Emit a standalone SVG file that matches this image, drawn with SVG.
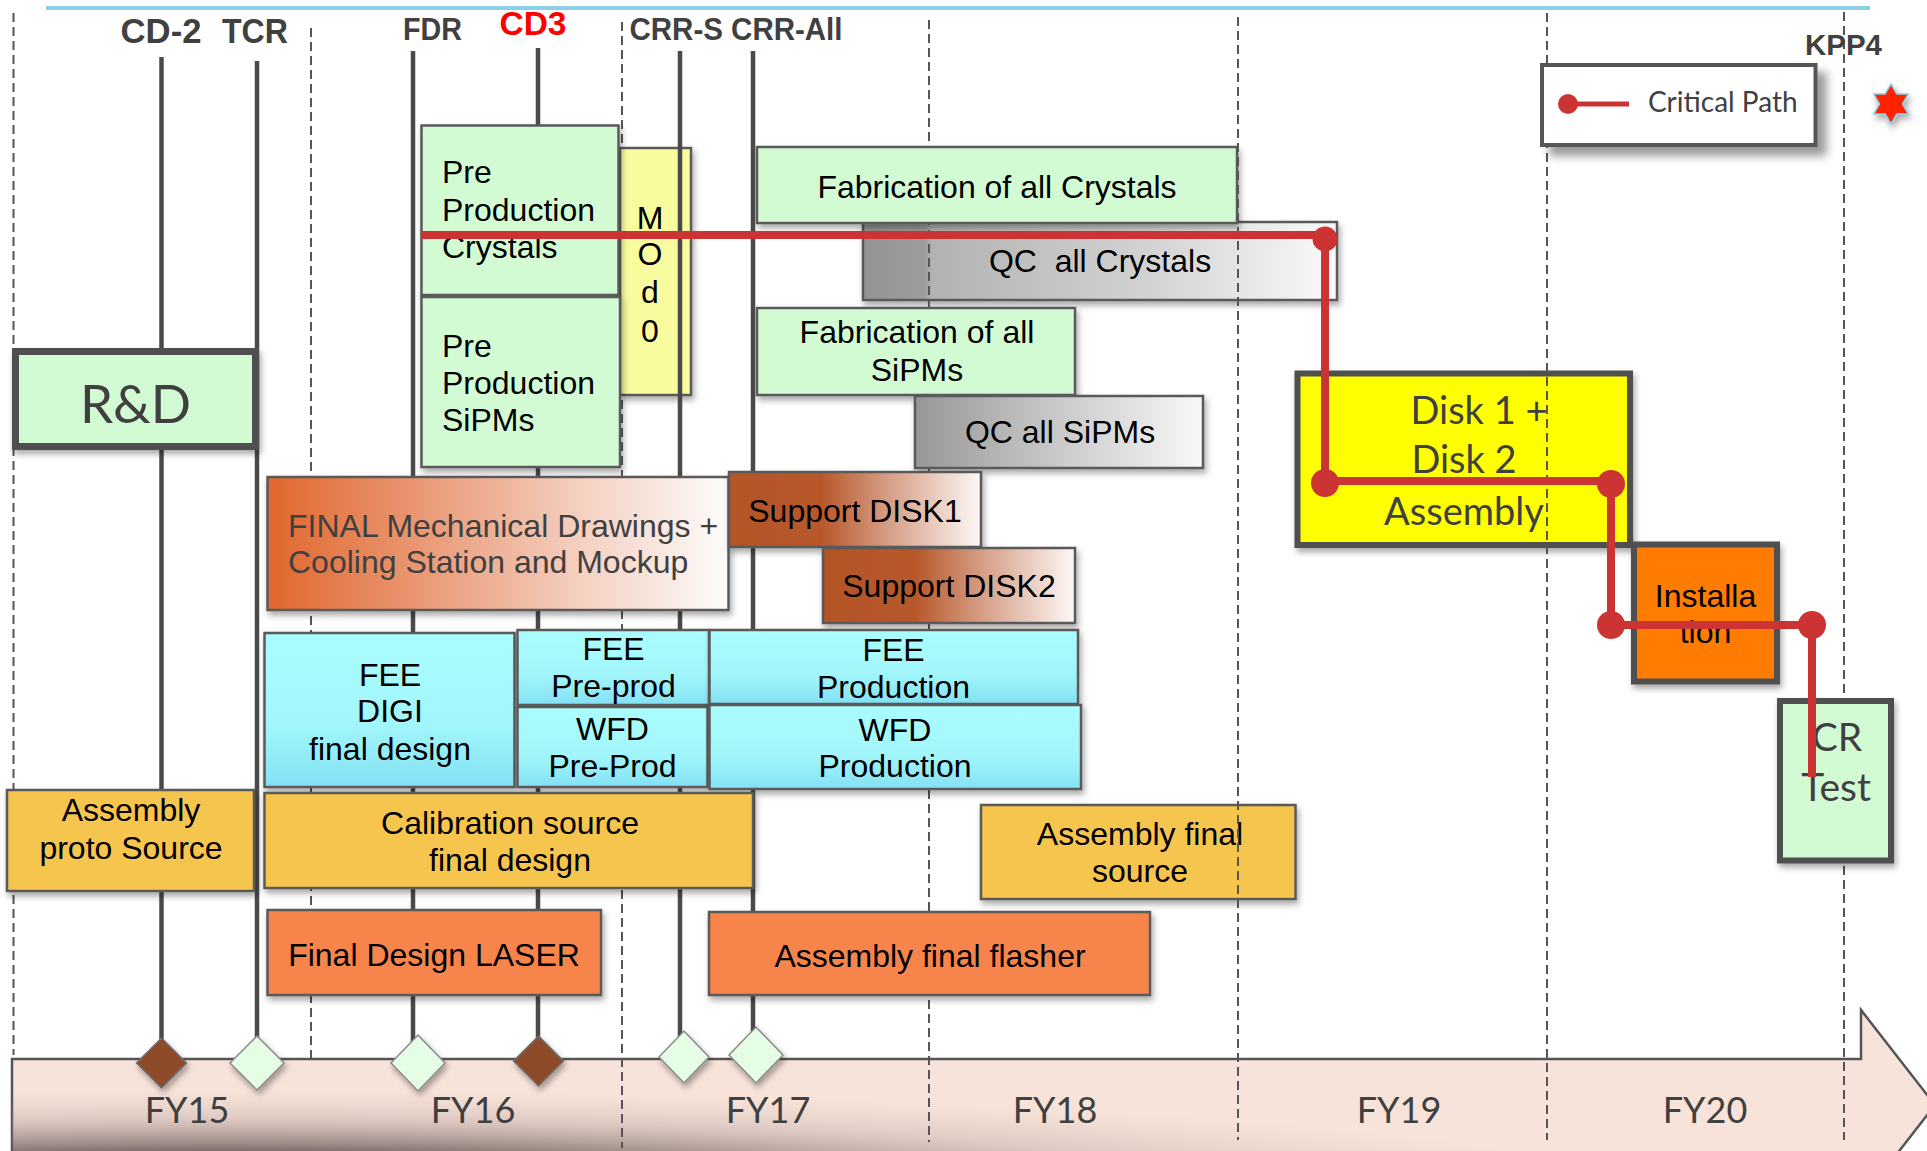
<svg xmlns="http://www.w3.org/2000/svg" width="1927" height="1151" viewBox="0 0 1927 1151">
  <defs>
    <style>
      .t { font-family: "Liberation Sans", Arial, sans-serif; font-size: 32px; fill: #000; }
      .mid { text-anchor: middle; }
      .cal { font-family: Lato, "Open Sans", sans-serif; fill: #404040; }
      .ms { font-family: "Liberation Sans", Arial, sans-serif; font-weight: bold; fill: #404040; }
      .box { stroke: #5a5a5a; stroke-width: 2.5; filter: url(#shadow); }
      .heavy { stroke: #505050; stroke-width: 6; filter: url(#shadow); }
      .dash { stroke: #555; stroke-width: 2; stroke-dasharray: 9 5; fill: none; }
      .mline { stroke: #4a4a4a; stroke-width: 4.5; fill: none; }
      .dia-dark { fill: #8e4b2c; stroke: #6f6f6f; stroke-width: 1.5; filter: url(#shadow); }
      .dia-light { fill: #e4fde4; stroke: #8a8a8a; stroke-width: 1.5; filter: url(#shadow); }
      .green { fill: #d3fbd3; }
      .gold { fill: #f6c54e; }
      .orange { fill: #f7854b; }
      .crit { stroke: #cc3333; stroke-width: 8; fill: none; stroke-linejoin: miter; }
      .dot { fill: #cc3333; }
    </style>
    <filter id="shadow" x="-10%" y="-10%" width="130%" height="140%">
      <feDropShadow dx="2" dy="4" stdDeviation="3" flood-color="#000" flood-opacity="0.35"/>
    </filter>
    <filter id="shadowBig" x="-10%" y="-20%" width="130%" height="160%">
      <feDropShadow dx="9" dy="9" stdDeviation="5" flood-color="#000" flood-opacity="0.4"/>
    </filter>
    <linearGradient id="gQC1" x1="0" y1="0" x2="1" y2="0">
      <stop offset="0" stop-color="#939393"/>
      <stop offset="0.13" stop-color="#9d9d9d"/>
      <stop offset="0.145" stop-color="#b2b2b2"/>
      <stop offset="0.6" stop-color="#d2d2d2"/>
      <stop offset="1" stop-color="#fafafa"/>
    </linearGradient>
    <linearGradient id="gQC2" x1="0" y1="0" x2="1" y2="0">
      <stop offset="0" stop-color="#979797"/>
      <stop offset="0.5" stop-color="#cacaca"/>
      <stop offset="1" stop-color="#f8f8f8"/>
    </linearGradient>
    <linearGradient id="gBrown" x1="0" y1="0" x2="1" y2="0">
      <stop offset="0" stop-color="#b35427"/>
      <stop offset="0.37" stop-color="#b8592c"/>
      <stop offset="0.62" stop-color="#d49b82"/>
      <stop offset="1" stop-color="#fdf8f6"/>
    </linearGradient>
    <linearGradient id="gMech" x1="0" y1="0" x2="1" y2="0">
      <stop offset="0" stop-color="#e0662c"/>
      <stop offset="0.35" stop-color="#ea9b78"/>
      <stop offset="0.7" stop-color="#f5d3c5"/>
      <stop offset="1" stop-color="#fdfbfa"/>
    </linearGradient>
    <linearGradient id="gCyan" x1="0" y1="0" x2="0" y2="1">
      <stop offset="0" stop-color="#aafdfd"/>
      <stop offset="0.6" stop-color="#a2f6fb"/>
      <stop offset="1" stop-color="#83e1f4"/>
    </linearGradient>
    <radialGradient id="gBandShade" gradientUnits="userSpaceOnUse" cx="0" cy="0" r="1" gradientTransform="translate(220 1185) scale(1400 95)">
      <stop offset="0" stop-color="#4f403e" stop-opacity="1"/>
      <stop offset="0.35" stop-color="#665755" stop-opacity="0.85"/>
      <stop offset="0.7" stop-color="#a08f8a" stop-opacity="0.3"/>
      <stop offset="1" stop-color="#c0aca6" stop-opacity="0"/>
    </radialGradient>
  </defs>

  <rect width="1927" height="1151" fill="#fff"/>

  <!-- header rule -->
  <line x1="46" y1="8" x2="1870" y2="8" stroke="#8ccfe6" stroke-width="4"/>

  <!-- fiscal-year timeline arrow -->
  <g id="timeline">
    <polygon points="12,1059 1861,1059 1861,1010 1935,1105 1861,1200 12,1200" fill="#f8e3da" stroke="#555" stroke-width="2.5"/>
    <polygon points="12,1059 1861,1059 1861,1010 1935,1105 1861,1200 12,1200" fill="url(#gBandShade)"/>
    <g class="cal mid" font-size="36">
      <text x="187" y="1123">FY15</text>
      <text x="473" y="1123">FY16</text>
      <text x="768" y="1123">FY17</text>
      <text x="1055" y="1123">FY18</text>
      <text x="1399" y="1123">FY19</text>
      <text x="1705" y="1123">FY20</text>
    </g>
  </g>

  <!-- QC of crystals sits beneath the year grid -->
  <g id="qc-crystals">
    <rect class="box" x="863" y="222" width="474" height="78" fill="url(#gQC1)"/>
    <text class="t mid" x="1100" y="272" style="white-space:pre">QC  all Crystals</text>
  </g>

  <!-- year grid, lower layer -->
  <g id="year-grid-back" class="dash">
    <line x1="13.5" y1="13" x2="13.5" y2="1055"/>
    <line x1="311" y1="28" x2="311" y2="1059"/>
    <line x1="622" y1="22" x2="622" y2="1148"/>
    <line x1="929" y1="20" x2="929" y2="1142"/>
    <line x1="1844" y1="12" x2="1844" y2="1140"/>
  </g>

  <g id="mod0">
    <rect class="box" x="620" y="148" width="71" height="247" fill="#f8fb9e"/>
    <g class="t mid" font-size="30">
      <text x="650" y="229">M</text>
      <text x="650" y="265">O</text>
      <text x="650" y="303">d</text>
      <text x="650" y="342">0</text>
    </g>
  </g>

  <!-- milestone stems -->
  <g id="milestone-lines" class="mline">
    <line x1="161.5" y1="57" x2="161.5" y2="1063"/>
    <line x1="257" y1="61" x2="257" y2="1063"/>
    <line x1="413" y1="51" x2="413" y2="1062"/>
    <line x1="538" y1="48" x2="538" y2="1052"/>
    <line x1="680" y1="51" x2="680" y2="1057"/>
    <line x1="753" y1="51" x2="753" y2="1054"/>
  </g>

  <!-- milestone labels -->
  <g id="milestone-labels">
    <text class="ms" x="120.5" y="43" font-size="35" textLength="81" lengthAdjust="spacingAndGlyphs">CD-2</text>
    <text class="ms" x="222" y="43" font-size="35" textLength="66" lengthAdjust="spacingAndGlyphs">TCR</text>
    <text class="ms" x="403" y="40" font-size="31" textLength="59" lengthAdjust="spacingAndGlyphs">FDR</text>
    <text class="ms" x="499.5" y="35" font-size="34" textLength="67" lengthAdjust="spacingAndGlyphs" style="fill:#ff0000">CD3</text>
    <text class="ms" x="629.5" y="40" font-size="32" textLength="213" lengthAdjust="spacingAndGlyphs">CRR-S CRR-All</text>
    <text class="ms" x="1805" y="55" font-size="30" textLength="77" lengthAdjust="spacingAndGlyphs">KPP4</text>
  </g>

  <!-- milestone markers -->
  <g id="milestone-cd2"><polygon class="dia-dark" points="161.5,1038 186.5,1063 161.5,1088 136.5,1063"/></g>
  <g id="milestone-tcr"><polygon class="dia-light" points="257,1036 284,1063 257,1090 230,1063"/></g>
  <g id="milestone-fdr"><polygon class="dia-light" points="418,1035 445,1063 418,1091 391,1063"/></g>
  <g id="milestone-cd3"><polygon class="dia-dark" points="538.5,1036 563.5,1061 538.5,1086 513.5,1061"/></g>
  <g id="milestone-crrs"><polygon class="dia-light" points="684,1031 709,1057 684,1083 659,1057"/></g>
  <g id="milestone-crrall"><polygon class="dia-light" points="756,1027 783,1055 756,1083 729,1055"/></g>

  <!-- activities -->
  <g id="rnd">
    <rect class="green" x="15.5" y="351.5" width="240" height="95" stroke="#505050" stroke-width="7" filter="url(#shadow)"/>
    <text class="cal mid" x="135.5" y="423" font-size="53">R&amp;D</text>
  </g>

  <g id="preprod-crystals">
    <rect class="box green" x="421.5" y="125.5" width="197" height="169.5"/>
    <g class="t">
      <text x="442" y="183">Pre</text>
      <text x="442" y="221">Production</text>
      <text x="442" y="258">Crystals</text>
    </g>
  </g>

  <g id="preprod-sipms">
    <rect class="box green" x="421.5" y="297" width="198.5" height="170"/>
    <g class="t">
      <text x="442" y="357">Pre</text>
      <text x="442" y="394">Production</text>
      <text x="442" y="431">SiPMs</text>
    </g>
  </g>

  <g id="fab-crystals">
    <rect class="box green" x="757" y="147" width="480" height="76"/>
    <text class="t mid" x="997" y="198">Fabrication of all Crystals</text>
  </g>

  <g id="fab-sipms">
    <rect class="box green" x="757" y="308" width="318" height="87"/>
    <text class="t mid" x="917" y="343">Fabrication of all</text>
    <text class="t mid" x="917" y="381">SiPMs</text>
  </g>

  <g id="qc-sipms">
    <rect class="box" x="915" y="396" width="288" height="72" fill="url(#gQC2)"/>
    <text class="t mid" x="1060" y="443">QC all SiPMs</text>
  </g>

  <g id="mech-drawings">
    <rect class="box" x="267.5" y="477" width="461" height="133" fill="url(#gMech)"/>
    <text class="t" x="288" y="537" style="fill:#404040">FINAL Mechanical Drawings +</text>
    <text class="t" x="288" y="573" style="fill:#404040">Cooling Station and Mockup</text>
  </g>

  <g id="support-disk1">
    <rect class="box" x="729" y="472" width="252" height="75" fill="url(#gBrown)"/>
    <text class="t mid" x="855" y="522">Support DISK1</text>
  </g>

  <g id="support-disk2">
    <rect class="box" x="823" y="548" width="252" height="75" fill="url(#gBrown)"/>
    <text class="t mid" x="949" y="597">Support DISK2</text>
  </g>

  <g id="fee-digi">
    <rect class="box" x="264.5" y="633" width="250" height="154" fill="url(#gCyan)"/>
    <text class="t mid" x="390" y="686">FEE</text>
    <text class="t mid" x="390" y="722">DIGI</text>
    <text class="t mid" x="390" y="760">final design</text>
  </g>

  <g id="fee-preprod">
    <rect class="box" x="517.5" y="630" width="191.5" height="75" fill="url(#gCyan)"/>
    <text class="t mid" x="613.5" y="660">FEE</text>
    <text class="t mid" x="613.5" y="697">Pre-prod</text>
  </g>

  <g id="wfd-preprod">
    <rect class="box" x="517.5" y="707" width="190" height="80" fill="url(#gCyan)"/>
    <text class="t mid" x="612.5" y="740">WFD</text>
    <text class="t mid" x="612.5" y="777">Pre-Prod</text>
  </g>

  <g id="fee-production">
    <rect class="box" x="709.5" y="630" width="368.5" height="74" fill="url(#gCyan)"/>
    <text class="t mid" x="893.5" y="661">FEE</text>
    <text class="t mid" x="893.5" y="698">Production</text>
  </g>

  <g id="wfd-production">
    <rect class="box" x="709.5" y="705" width="371.5" height="84" fill="url(#gCyan)"/>
    <text class="t mid" x="895" y="741">WFD</text>
    <text class="t mid" x="895" y="777">Production</text>
  </g>

  <g id="proto-source">
    <rect class="box gold" x="7" y="790" width="247" height="101"/>
    <text class="t mid" x="131" y="821">Assembly</text>
    <text class="t mid" x="131" y="859">proto Source</text>
  </g>

  <g id="calib-source">
    <rect class="box gold" x="264.5" y="793" width="488.5" height="95"/>
    <text class="t mid" x="510" y="834">Calibration source</text>
    <text class="t mid" x="510" y="871">final design</text>
  </g>

  <g id="laser">
    <rect class="box orange" x="267.5" y="910" width="333.5" height="85"/>
    <text class="t mid" x="434" y="966">Final Design LASER</text>
  </g>

  <g id="flasher">
    <rect class="box orange" x="709" y="912" width="441" height="83"/>
    <text class="t mid" x="930" y="967">Assembly final flasher</text>
  </g>

  <g id="final-source">
    <rect class="box gold" x="981" y="805" width="314.5" height="94"/>
    <text class="t mid" x="1140" y="845">Assembly final</text>
    <text class="t mid" x="1140" y="882">source</text>
  </g>

  <g id="disk-assembly">
    <rect class="heavy" x="1297.5" y="373.5" width="332.5" height="171.5" fill="#ffff00"/>
    <g class="cal mid" font-size="38">
      <text x="1479" y="424">Disk 1 +</text>
      <text x="1464" y="473">Disk 2</text>
      <text x="1464" y="525">Assembly</text>
    </g>
  </g>

  <g id="installation">
    <rect class="heavy" x="1634" y="544.5" width="143" height="137" fill="#ff7b00"/>
    <text class="t mid" x="1705.5" y="607">Installa</text>
    <text class="t mid" x="1705.5" y="643">tion</text>
  </g>

  <g id="cr-test">
    <rect class="heavy" x="1780" y="701" width="111" height="159.5" fill="#d3fbd3"/>
    <g class="cal mid" font-size="39">
      <text x="1837" y="751">CR</text>
      <text x="1836" y="801">Test</text>
    </g>
  </g>

  <!-- year grid, upper layer -->
  <g id="year-grid-front" class="dash">
    <line x1="1238" y1="17" x2="1238" y2="1140"/>
    <line x1="1547" y1="13" x2="1547" y2="1140"/>
  </g>

  <!-- legend -->
  <g id="legend">
    <rect x="1542" y="65" width="273.5" height="80" fill="#fff" stroke="#555" stroke-width="4" filter="url(#shadowBig)"/>
    <line x1="1567" y1="104" x2="1629" y2="104" stroke="#cc3333" stroke-width="5"/>
    <circle class="dot" cx="1568" cy="104" r="10"/>
    <text class="cal" x="1648" y="112" font-size="28">Critical Path</text>
  </g>

  <g id="kpp4-star">
    <polygon points="1891,84 1896.8,94 1908.3,94 1902.5,104 1908.3,114 1896.8,114 1891,124 1885.2,114 1873.7,114 1879.5,104 1873.7,94 1885.2,94" fill="#ff2200" stroke="#8ccfe6" stroke-width="1.5" filter="url(#shadow)"/>
  </g>

  <!-- critical path -->
  <g id="connectors">
    <polyline class="crit" points="421,235 1325,235 1325,481 1611,481 1611,625 1812,625 1812,777"/>
    <circle class="dot" cx="1325" cy="239" r="12.5"/>
    <circle class="dot" cx="1325" cy="483" r="14"/>
    <circle class="dot" cx="1611" cy="484" r="14"/>
    <circle class="dot" cx="1611" cy="625" r="14"/>
    <circle class="dot" cx="1812" cy="625" r="14"/>
  </g>
</svg>
